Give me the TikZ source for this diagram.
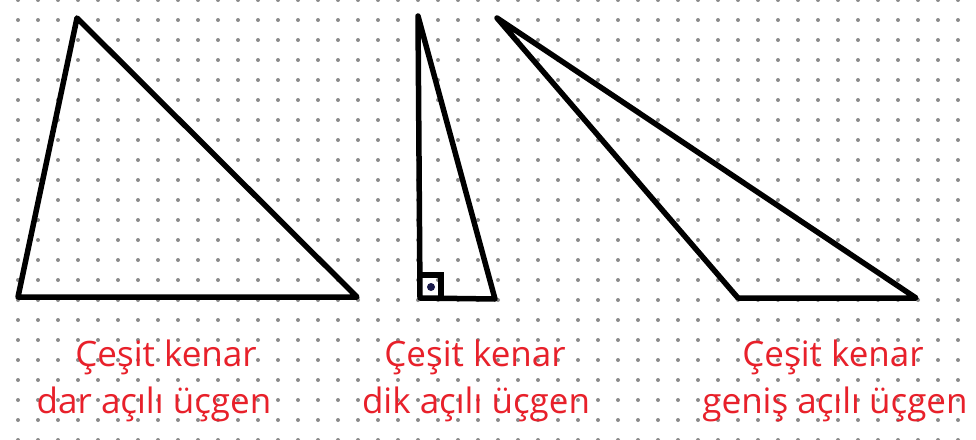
\documentclass[tikz,border=0pt]{standalone}
\usepackage{fontspec}
\setmainfont{Open Sans}
\definecolor{dotgray}{HTML}{8A8A8A}
\definecolor{labelred}{HTML}{E8202A}
\definecolor{navy}{HTML}{1A1A4A}
\begin{document}
\begin{tikzpicture}[x=1pt,y=-1pt,
  tri/.style={line width=5.5pt,line join=round,line cap=round,black},
  lbl/.style={anchor=base,inner sep=0pt,text=labelred,font=\fontsize{35}{40}\selectfont}]
\useasboundingbox (0,0) rectangle (976,439);
\fill[white] (0,0) rectangle (976,439);
% dot grid
\foreach \i in {0,...,47}{
  \foreach \j in {0,...,22}{
    \fill[dotgray] ({18+20*\i},{20*\j}) circle (2);
  }
}
% triangle 1: acute scalene
\draw[tri] (77,18) -- (18,297) -- (357,297) -- cycle;
% triangle 2: right scalene
\draw[tri] (418,16) -- (420,298) -- (495,299) -- cycle;
\draw[line width=5.5pt,line join=miter] (420,275) -- (441,275) -- (441,298);
\fill[navy] (431,287) circle (4);
% triangle 3: obtuse scalene
\draw[tri] (497,18) -- (738,298) -- (916,298) -- cycle;
% labels
\node[lbl] (l1a) at (166,366) {Çeşit kenar};
\node[lbl] (l1b) at (154,413) {dar açılı üçgen};
\node[lbl] (l2a) at (475,366) {Çeşit kenar};
\node[lbl] (l2b) at (476,413) {dik açılı üçgen};
\node[lbl] (l3a) at (833,366) {Çeşit kenar};
\node[lbl] (l3b) at (835,413) {geniş açılı üçgen};
\end{tikzpicture}
\end{document}
